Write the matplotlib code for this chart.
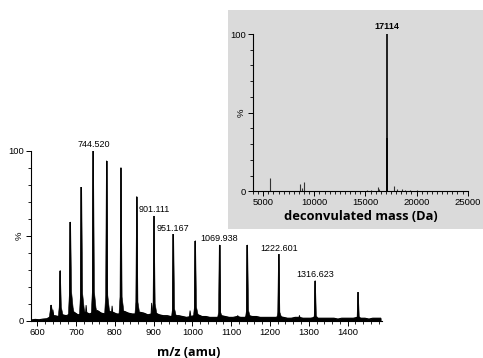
import numpy as np
import matplotlib
matplotlib.use("Agg")
import matplotlib.pyplot as plt
from matplotlib.patches import Rectangle
from matplotlib.ticker import MultipleLocator, FixedLocator, FixedFormatter

# ---------------- data: ESI charge-state envelope ----------------
peak_mz = [636.0, 659.2, 685.6, 714.1, 744.52, 778.9, 815.9, 856.7, 901.111,
           951.167, 1007.7, 1069.938, 1141.9, 1222.601, 1316.623, 1427.2]
peak_int = [9.2, 29.5, 58.0, 78.5, 100.0, 94.0, 90.0, 73.0, 61.5,
            50.8, 47.0, 44.5, 44.5, 39.0, 23.5, 16.7]
peak_foot = [6.0, 8.0, 17.0, 16.0, 17.0, 15.0, 14.0, 11.0, 10.0,
             7.0, 8.0, 5.0, 6.0, 5.0, 3.0, 2.5]
minor_mz = [640.5, 726.0, 793.0, 895.0, 994.0, 1117.0, 1276.0]
minor_int = [6.5, 9.2, 8.8, 10.5, 6.0, 3.2, 3.2]
labelled = ["744.520", "901.111", "951.167", "1069.938", "1222.601", "1316.623"]
labelled_mz = [744.52, 901.111, 951.167, 1069.938, 1222.601, 1316.623]
labelled_int = [100.0, 61.5, 50.8, 44.5, 39.0, 23.5]

base_mz = list(range(585, 1490, 10))
base_int = [0.5, 0.8, 0.6, 1.0, 1.2, 2.5, 3.0, 2.5, 3.5, 3.0,
            4.0, 5.0, 3.5, 4.0, 5.0, 4.0, 5.0, 6.0, 4.5, 4.0,
            5.5, 5.0, 4.0, 4.0, 5.5, 4.5, 4.0, 4.0, 5.0, 4.5,
            3.5, 4.0, 4.5, 3.5, 3.0, 3.0, 2.5, 3.0, 3.0, 2.5,
            2.0, 2.5, 3.0, 3.5, 2.5, 2.5, 2.0, 2.0, 2.0, 3.0,
            2.5, 2.0, 2.0, 2.5, 2.0, 2.0, 3.0, 2.5, 2.5, 2.0,
            2.0, 2.0, 2.0, 2.0, 2.5, 2.0, 1.5, 1.5, 2.0, 2.0,
            1.5, 1.5, 1.5, 2.0, 1.5, 1.5, 1.5, 1.5, 1.5, 1.0,
            1.5, 1.5, 1.5, 1.5, 2.0, 1.5, 1.5, 1.0, 1.5, 1.5, 1.5]

# ---------------- data: deconvoluted spectrum ----------------
mass = [5680, 8570, 8790, 8990, 15200, 15550, 16200, 16350, 17114, 17140,
        17800, 18050, 18600, 18900, 19400, 20000, 20300]
mass_int = [8.3, 4.5, 2.0, 6.0, 0.6, 1.0, 2.5, 1.5, 100.0, 34.0,
            3.4, 1.5, 1.5, 1.0, 0.6, 0.8, 0.5]

# ---------------- figure ----------------
fig = plt.figure(figsize=(4.83, 3.58), dpi=100)
fig.patch.set_facecolor("white")
GRAY = "#dadada"
fig.add_artist(Rectangle((0.472, 0.360), 0.528, 0.612, transform=fig.transFigure,
                         facecolor=GRAY, edgecolor="none", zorder=-1))

FAM = ["Liberation Sans", "DejaVu Sans"]

def style_axes(ax):
    for s in ("top", "right"):
        ax.spines[s].set_visible(False)
    for s in ("left", "bottom"):
        ax.spines[s].set_linewidth(0.8)
    ax.tick_params(which="major", length=3.5, width=0.7, pad=1.5, labelsize=6.8)
    ax.tick_params(which="minor", length=2, width=0.6)
    for lab in ax.get_xticklabels() + ax.get_yticklabels():
        lab.set_fontfamily(FAM)

# main spectrum
ax = fig.add_axes([0.0642, 0.104, 0.726, 0.475])
ax.set_facecolor("none")
ax.fill_between(base_mz, 0, base_int, color="black", lw=0.8)
ax.plot(base_mz, base_int, color="black", lw=0.8)
for m, h, f in zip(peak_mz, peak_int, peak_foot):
    xs = [m - 6, m - 2.5, m - 0.6, m + 0.6, m + 3.0, m + 7, m + 14]
    ys = [0, f, h, h, f, f * 0.45, 0]
    ax.fill(xs, ys, color="black", lw=0.4)
    ax.vlines(m, 0, h, color="black", lw=1.1)
for m, h in zip(minor_mz, minor_int):
    ax.fill([m - 2.5, m, m + 4], [0, h, 0], color="black", lw=0.6)
for t, m, h in zip(labelled, labelled_mz, labelled_int):
    ax.text(m, h + 1.0, t, ha="center", va="bottom", fontsize=6.5, family=FAM)
ax.set_xlim(584, 1488)
ax.set_ylim(0, 100)
ax.xaxis.set_major_locator(FixedLocator([600, 700, 800, 900, 1000, 1100, 1200, 1300, 1400]))
ax.xaxis.set_minor_locator(MultipleLocator(20))
ax.yaxis.set_major_locator(FixedLocator([0, 50, 100]))
ax.yaxis.set_major_formatter(FixedFormatter(["0", "%", "100"]))
ax.yaxis.set_minor_locator(MultipleLocator(10))
style_axes(ax)
ax.get_yticklabels()[1].set_rotation(90)
ax.get_yticklabels()[1].set_va("center")
fig.text(188.7 / 483, 1 - 352 / 358, "m/z (amu)", ha="center", va="center",
         fontsize=9, fontweight="bold", family=["Open Sans", "DejaVu Sans"])

# inset
ax2 = fig.add_axes([0.5238, 0.4656, 0.4445, 0.4394])
ax2.patch.set_visible(False)
for m, h in zip(mass, mass_int):
    big = h > 30
    ax2.vlines(m, 0, h, color="black" if big else "#333333", lw=1.2 if big else 0.8)
ax2.text(17114, 102, "17114", ha="center", va="bottom", fontsize=6.5,
         fontweight="bold", family=FAM)
ax2.set_xlim(4000, 25000)
ax2.set_ylim(0, 100)
ax2.xaxis.set_major_locator(FixedLocator([5000, 10000, 15000, 20000, 25000]))
ax2.xaxis.set_minor_locator(MultipleLocator(500))
ax2.yaxis.set_major_locator(FixedLocator([0, 50, 100]))
ax2.yaxis.set_major_formatter(FixedFormatter(["0", "%", "100"]))
ax2.yaxis.set_minor_locator(MultipleLocator(10))
style_axes(ax2)
ax2.get_yticklabels()[1].set_rotation(90)
ax2.get_yticklabels()[1].set_va("center")
fig.text(360.7 / 483, 1 - 216.7 / 358, "deconvulated mass (Da)", ha="center",
         va="center", fontsize=9.3, fontweight="bold",
         family=["Open Sans", "DejaVu Sans"])

fig.savefig("out.png", dpi=100, facecolor="white")
